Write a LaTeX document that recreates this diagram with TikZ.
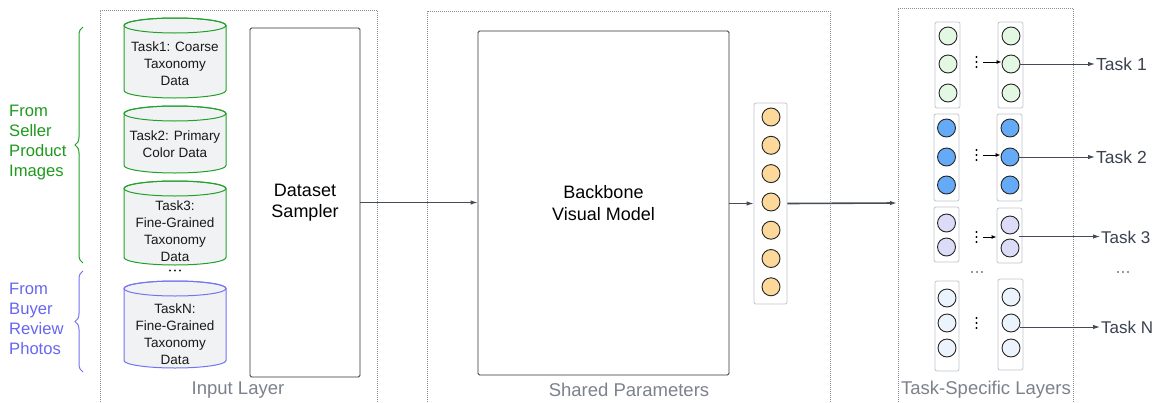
\documentclass[tikz,border=0pt]{standalone}
\usepackage{fontspec}
\setmainfont{Liberation Sans}
\usetikzlibrary{arrows.meta,decorations.pathreplacing,calc}
\definecolor{gtext}{HTML}{1E9A1E}
\definecolor{btext}{HTML}{6666F0}
\definecolor{gline}{HTML}{22A02A}
\definecolor{bline}{HTML}{7474F2}
\definecolor{cylfill}{HTML}{F1F2F4}
\definecolor{dotgrey}{HTML}{8A8D93}
\definecolor{lblgrey}{HTML}{7C828C}
\definecolor{arrgrey}{HTML}{454B57}
\definecolor{colgrey}{HTML}{C3C6CC}
\definecolor{corange}{HTML}{FCD89A}
\definecolor{cgreen}{HTML}{E3F8E3}
\definecolor{cblue}{HTML}{64AAF7}
\definecolor{clav}{HTML}{DCDCF8}
\definecolor{clight}{HTML}{EBF3FD}
\definecolor{tasktxt}{HTML}{3B4250}
\newcommand\cylshape[3]{%
  \filldraw[fill=cylfill, draw=#3, line width=1pt]
    (124,-#1-7.5) -- (124,-#2+7.5)
    arc[start angle=180, end angle=360, x radius=51, y radius=7.5]
    -- (226,-#1-7.5)
    arc[start angle=0, end angle=180, x radius=51, y radius=7.5] -- cycle;
  \draw[#3, line width=1pt] (175,-#1-7.5) ellipse [x radius=51, y radius=7.5];
}
\tikzset{
  dotbox/.style={draw=dotgrey, line width=0.8pt, dash pattern=on 0.8pt off 1.2pt},
  layerlbl/.style={text=lblgrey, font=\fontsize{18.5}{20}\selectfont, inner sep=0},
  bigbox/.style={draw=black!80, line width=0.9pt, rounded corners=1.5pt, inner sep=0,
    align=center, font=\fontsize{18}{21.5}\selectfont},
  arr/.style={draw=arrgrey, line width=1pt, -{Latex[length=7pt,width=4.5pt]}},
  sarr/.style={draw=black, line width=1pt, -{Latex[length=5pt,width=4pt]}},
  colbox/.style={draw=colgrey, fill=white, line width=0.8pt, rounded corners=2pt, inner sep=0},
  neu/.style={circle, draw=black!85, line width=0.9pt, minimum size=18pt, inner sep=0},
  cyltxt/.style={align=center, font=\fontsize{13.5}{17}\selectfont, text=black!90, inner sep=0},
  sidetxt/.style={align=left, font=\fontsize{16.6}{20}\selectfont, inner sep=0, anchor=west},
  tasklbl/.style={text=tasktxt, font=\fontsize{17.5}{20}\selectfont, inner sep=1pt, anchor=west},
  brc/.style={line width=1pt, decorate, decoration={brace, amplitude=8pt}},
}
\begin{document}
\begin{tikzpicture}[x=1pt,y=1pt]
\useasboundingbox (0,0) rectangle (1157,-402);
\fill[white] (0,0) rectangle (1157,-402);
% dotted layer boxes
\draw[dotbox] (100,-402) -- (100,-10) -- (377,-10) -- (377,-402);
\draw[dotbox] (427,-402) -- (427,-11) -- (830,-11) -- (830,-402);
\draw[dotbox] (898,-402) -- (898,-8) -- (1073,-8) -- (1073,-402);
\node[layerlbl] (lin) at (238,-390) {Input Layer};
\node[layerlbl] (lsh) at (629,-390) {Shared Parameters};
\node[layerlbl] (lts) at (986,-390) {Task-Specific Layers};
% side texts and braces
\node[sidetxt, text=gtext] (seller) at (9,-143) {From\\Seller\\Product\\Images};
\node[sidetxt, text=btext] (buyer) at (9,-319) {From\\Buyer\\Review\\Photos};
\draw[brc, gline] (83,-263) -- (83,-27);
\draw[brc, bline] (83,-372) -- (83,-271);
% cylinders
\cylshape{18}{98}{gline}
\cylshape{106}{173}{gline}
\cylshape{181}{265}{gline}
\cylshape{281}{368}{bline}
\node[cyltxt] (c1) at (175,-63.5) {Task1: Coarse\\Taxonomy\\Data};
\node[cyltxt] (c2) at (175,-143.7) {Task2: Primary\\Color Data};
\node[cyltxt] (c3) at (175,-231.5) {Task3:\\Fine-Grained\\Taxonomy\\Data};
\node[cyltxt] (cn) at (175,-334) {TaskN:\\Fine-Grained\\Taxonomy\\Data};
\foreach \x in {170,175,180} \fill[black!85] (\x,-270.5) circle (1.1);
% main boxes
\node[bigbox, minimum width=110pt, minimum height=349pt] (ds) at (305,-202.5) {Dataset\\Sampler};
\node[bigbox, minimum width=251pt, minimum height=344pt] (bb) at (603.5,-203) {Backbone\\Visual Model};
\node[colbox, minimum width=33pt, minimum height=201pt] (fc) at (770.5,-203.5) {};
\foreach \y [count=\i] in {117,145.3,173.6,202,230.2,258.5,286.8}
  \node[neu, fill=corange] (f\i) at (771,-\y) {};
\coordinate (tsl) at (897,-203);
\draw[arr] (ds.east) -- (ds.east -| bb.west);
\draw[arr] (bb.east |- fc.west) -- (fc.west);
\draw[arr, line width=1.6pt] (fc.east) -- (tsl);
% task group 1
\node[colbox, minimum width=25pt, minimum height=86pt] (g1l) at (947.5,-65) {};
\node[colbox, minimum width=25pt, minimum height=86pt] (g1r) at (1010.5,-65) {};
\foreach \y [count=\i] in {36,64,93} {
  \node[neu, fill=cgreen] (g1l\i) at (948,-\y) {};
  \node[neu, fill=cgreen] (g1r\i) at (1011,-\y) {};
}
% task group 2
\node[colbox, minimum width=25pt, minimum height=87pt] (g2l) at (946.5,-157.5) {};
\node[colbox, minimum width=25pt, minimum height=87pt] (g2r) at (1009.5,-157.5) {};
\foreach \y [count=\i] in {128,157,185} {
  \node[neu, fill=cblue] (g2l\i) at (946.5,-\y) {};
  \node[neu, fill=cblue] (g2r\i) at (1010,-\y) {};
}
% task group 3
\node[colbox, minimum width=25pt, minimum height=55pt] (g3l) at (946.5,-234.5) {};
\node[colbox, minimum width=25pt, minimum height=55pt] (g3r) at (1009.5,-235.5) {};
\foreach \y/\z [count=\i] in {223/225,247/248} {
  \node[neu, fill=clav] (g3l\i) at (946.5,-\y) {};
  \node[neu, fill=clav] (g3r\i) at (1010,-\z) {};
}
% task group N
\node[colbox, minimum width=24pt, minimum height=90pt] (gnl) at (947,-326) {};
\node[colbox, minimum width=25pt, minimum height=91pt] (gnr) at (1010.5,-324.5) {};
\foreach \y/\z [count=\i] in {298/297,323/323,348/348} {
  \node[neu, fill=clight] (gnl\i) at (947,-\y) {};
  \node[neu, fill=clight] (gnr\i) at (1011,-\z) {};
}
% vertical dots and small arrows
\foreach \yc in {62,155,237,323} {
  \foreach \d in {-5,0,5} \fill[black] (976.5,-\yc+\d) circle (1.1);
}
\coordinate (d1) at (983,-62);
\coordinate (d2) at (983,-155);
\coordinate (d3) at (983,-237);
\draw[sarr] (d1) -- (d1 -| g1r2.west);
\draw[sarr] (d2) -- (d2 -| g2r2.west);
\draw[sarr] (d3) -- (d3 -| g3r.west);
% horizontal dots
\foreach \x in {972,977,982} \fill[black!80] (\x,-272) circle (0.9);
\foreach \x in {1118,1123,1128} \fill[black!80] (\x,-272) circle (0.9);
% task labels
\node[tasklbl] (t1) at (1095,-64) {Task 1};
\node[tasklbl] (t2) at (1095,-157) {Task 2};
\node[tasklbl, font=\fontsize{17}{20}\selectfont] (t3) at (1100,-237) {Task 3};
\node[tasklbl, font=\fontsize{17}{20}\selectfont] (tn) at (1100,-327) {Task N};
\coordinate (o3) at ($(g3r1.east)!0.5!(g3r2.east)$);
\coordinate (on) at ($(gnr2.east)+(0,-4)$);
\draw[arr] (g1r2.east) -- (g1r2.east -| t1.west);
\draw[arr] (g2r2.east) -- (g2r2.east -| t2.west);
\draw[arr] (o3) -- (o3 -| t3.west);
\draw[arr] (on) -- (on -| tn.west);
\end{tikzpicture}
\end{document}
